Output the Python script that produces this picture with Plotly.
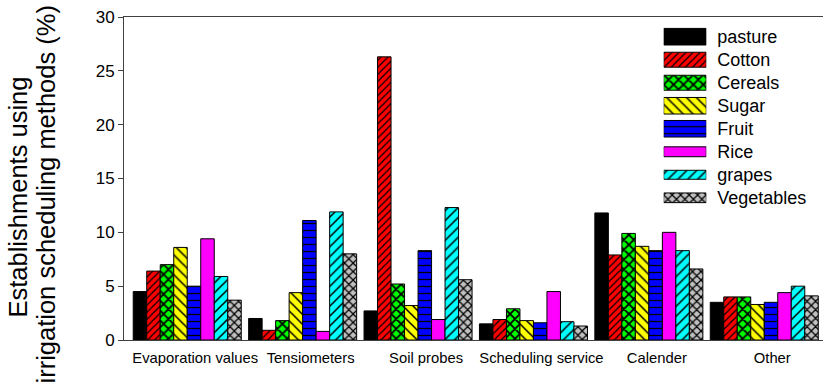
import plotly.graph_objects as go

# Irrigation scheduling methods used, share of establishments (%) by industry
methods = ["Evaporation values", "Tensiometers", "Soil probes",
           "Scheduling service", "Calender", "Other"]

pasture = [4.5, 2.0, 2.7, 1.5, 11.8, 3.5]
cotton = [6.4, 0.9, 26.3, 1.9, 7.9, 4.0]
cereals = [7.0, 1.8, 5.2, 2.9, 9.9, 4.0]
sugar = [8.6, 4.4, 3.2, 1.8, 8.7, 3.3]
fruit = [5.0, 11.1, 8.3, 1.6, 8.3, 3.5]
rice = [9.4, 0.8, 1.9, 4.5, 10.0, 4.4]
grapes = [5.9, 11.9, 12.3, 1.7, 8.3, 5.0]
vegetables = [3.7, 8.0, 5.6, 1.3, 6.6, 4.1]

series_names = ["pasture", "Cotton", "Cereals", "Sugar", "Fruit", "Rice",
                "grapes", "Vegetables"]
series_values = [pasture, cotton, cereals, sugar, fruit, rice, grapes, vegetables]

y_ticks = [0, 5, 10, 15, 20, 25, 30]

# fill colour and hatch style per series
styles = [
    dict(color="#000000", shape="", size=8, solidity=0.2),
    dict(color="#ff0000", shape="/", size=5, solidity=0.25),
    dict(color="#00ff00", shape="x", size=7, solidity=0.45),
    dict(color="#ffff00", shape="\\", size=7, solidity=0.22),
    dict(color="#0000ff", shape="-", size=7, solidity=0.18),
    dict(color="#ff00ff", shape="", size=8, solidity=0.2),
    dict(color="#00ffff", shape="/", size=7, solidity=0.22),
    dict(color="#c0c0c0", shape="x", size=6, solidity=0.38),
]

# thickness of each key swatch (fraction of a key row)
key_widths = [0.72, 0.65, 0.65, 0.72, 0.72, 0.43, 0.39, 0.42]

FONT = "Liberation Sans, Arial, sans-serif"


def bar_marker(st):
    return dict(
        color=st["color"],
        line=dict(color="#000000", width=1),
        pattern=dict(shape=st["shape"], size=st["size"],
                     solidity=st["solidity"], fgcolor="#000000",
                     bgcolor=st["color"], fgopacity=1, fillmode="replace"),
    )


fig = go.Figure()

for name, vals, st in zip(series_names, series_values, styles):
    fig.add_trace(go.Bar(x=methods, y=vals, name=name, showlegend=False,
                         marker=bar_marker(st)))

# key: one short horizontal bar per series on its own small axes
for name, st, w in zip(series_names, styles, key_widths):
    fig.add_trace(go.Bar(
        x=[1], y=[name], orientation="h", width=[w],
        xaxis="x2", yaxis="y2", showlegend=False, hoverinfo="skip",
        marker=bar_marker(st),
    ))

L, T, B = 124, 17, 48
W, H = 823, 388
pw, ph = W - L, H - T - B


def px_x(p):
    return (p - L) / pw


def px_y(p):
    return (H - B - p) / ph


fig.update_layout(
    width=W, height=H,
    margin=dict(l=L, r=0, t=T, b=B, pad=0),
    paper_bgcolor="white", plot_bgcolor="white",
    barmode="group", bargap=0.064, bargroupgap=0,
    font=dict(family=FONT, color="#000000"),
    showlegend=False,
    xaxis=dict(
        range=[-0.548, 5.509], showline=True, linecolor="#404040",
        linewidth=1, mirror=True, ticks="", showgrid=False, zeroline=False,
        tickfont=dict(size=14.8, family=FONT, color="#000000"),
        ticklabelshift=8, ticklabelstandoff=4,
    ),
    yaxis=dict(
        range=[0, 30], tickvals=y_ticks, showline=True, linecolor="#404040",
        linewidth=1, ticks="outside", ticklen=5, tickcolor="#404040",
        showgrid=False, zeroline=False,
        tickfont=dict(size=17, family=FONT, color="#000000"),
    ),
    xaxis2=dict(
        domain=[px_x(663.7), px_x(706.3)], range=[0, 1], anchor="y2",
        visible=False, fixedrange=True,
    ),
    yaxis2=dict(
        domain=[px_y(209.3), px_y(25.2)], anchor="x2", side="right",
        categoryorder="array", categoryarray=series_names,
        autorange="reversed", showline=False, ticks="", showgrid=False,
        zeroline=False, ticklabelstandoff=10,
        tickfont=dict(size=18, family=FONT, color="#000000"),
    ),
    annotations=[
        dict(text="Establishments using", textangle=-90, showarrow=False,
             xref="paper", yref="paper", x=px_x(17), y=px_y(197.5),
             xanchor="center", yanchor="middle",
             font=dict(size=25.5, family=FONT, color="#000000")),
        dict(text="irrigation scheduling methods (%)", textangle=-90,
             showarrow=False, xref="paper", yref="paper",
             x=px_x(45), y=px_y(194.5), xanchor="center", yanchor="middle",
             font=dict(size=25.5, family=FONT, color="#000000")),
    ],
)

fig.write_html("out.html")
